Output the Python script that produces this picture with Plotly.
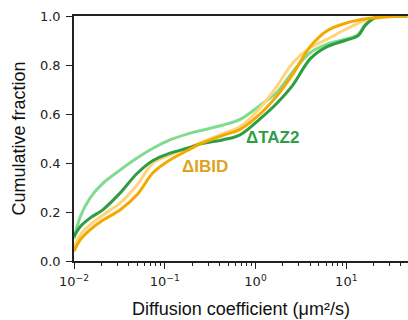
import numpy as np
import plotly.graph_objects as go

# Diffusion coefficient sample points (µm²/s)
D = [0.01, 0.0117, 0.015, 0.0209, 0.0321, 0.0495, 0.0742, 0.114, 0.176, 0.245,
     0.439, 0.676, 1.12, 1.73, 2.60, 4.00, 6.15, 9.73, 13.5, 16.1, 20.8, 30.5, 47]

taz2_a = [0.09, 0.18, 0.257, 0.318, 0.371, 0.42, 0.46, 0.494, 0.518, 0.532,
          0.555, 0.578, 0.635, 0.69, 0.775, 0.85, 0.885, 0.905, 0.925, 0.965,
          0.993, 1.0, 1.0]
taz2_b = [0.10, 0.14, 0.175, 0.21, 0.277, 0.357, 0.41, 0.44, 0.46, 0.477,
          0.495, 0.515, 0.58, 0.645, 0.72, 0.825, 0.875, 0.90, 0.92, 0.96,
          0.993, 1.0, 1.0]
ibid_a = [0.055, 0.106, 0.147, 0.188, 0.236, 0.31, 0.40, 0.433, 0.46, 0.482,
          0.52, 0.548, 0.625, 0.715, 0.81, 0.87, 0.905, 0.945, 0.97, 0.982,
          0.99, 0.997, 1.0]
ibid_b = [0.04, 0.086, 0.127, 0.167, 0.208, 0.27, 0.36, 0.412, 0.45, 0.478,
          0.513, 0.537, 0.60, 0.675, 0.765, 0.875, 0.94, 0.97, 0.983, 0.988,
          0.993, 0.998, 1.0]

x_tickvals = [0.01, 0.1, 1, 10]
x_ticktext = ["10<sup>−2</sup>", "10<sup>−1</sup>", "10<sup>0</sup>", "10<sup>1</sup>"]
y_tickvals = [0.0, 0.2, 0.4, 0.6, 0.8, 1.0]

fig = go.Figure()
series = [
    (taz2_a, "#80db8e"),
    (ibid_a, "#ffd47c"),
    (taz2_b, "#2f9d42"),
    (ibid_b, "#f2a900"),
]
for ys, col in series:
    fig.add_trace(go.Scatter(x=D, y=ys, mode="lines",
                             line=dict(color=col, width=3, shape="spline", smoothing=1.0),
                             showlegend=False, hoverinfo="skip"))

fig.add_annotation(x=np.log10(1.54), y=0.504, xref="x", yref="y", text="<b>ΔTAZ2</b>",
                   showarrow=False, font=dict(family="Liberation Sans, Arial", size=17, color="#2e9e44"))
fig.add_annotation(x=np.log10(0.278), y=0.384, xref="x", yref="y", text="<b>ΔIBID</b>",
                   showarrow=False, font=dict(family="Liberation Sans, Arial", size=17, color="#dba422"))

tick_font = dict(family="DejaVu Sans", size=13, color="#222")
fig.update_layout(
    width=408, height=320,
    margin=dict(l=74, r=0, t=16, b=59),
    paper_bgcolor="white", plot_bgcolor="white",
    font=dict(family="Liberation Sans, Arial", color="#222222"),
)
fig.update_xaxes(
    type="log", range=[-2, 1.68],
    tickvals=x_tickvals, ticktext=x_ticktext,
    ticks="outside", ticklen=6, tickwidth=1.3, tickcolor="#222",
    minor=dict(ticks="outside", ticklen=3, tickwidth=1, tickcolor="#222", dtick="D1", showgrid=False),
    showline=True, linecolor="#222", linewidth=1.5, mirror=True,
    showgrid=False, zeroline=False,
    tickfont=tick_font, ticklabelstandoff=2,
    title=dict(text="Diffusion coefficient (μm²/s)", font=dict(size=18, color="#111"), standoff=14),
)
fig.update_yaxes(
    range=[0, 1], tickvals=y_tickvals, tickformat=".1f",
    ticks="outside", ticklen=6, tickwidth=1.3, tickcolor="#222",
    showline=True, linecolor="#222", linewidth=1.5, mirror=False,
    showgrid=False, zeroline=False,
    tickfont=tick_font, ticklabelstandoff=3,
    title=dict(text="Cumulative fraction", font=dict(size=18, color="#111"), standoff=10),
)

fig.write_html("out.html")
